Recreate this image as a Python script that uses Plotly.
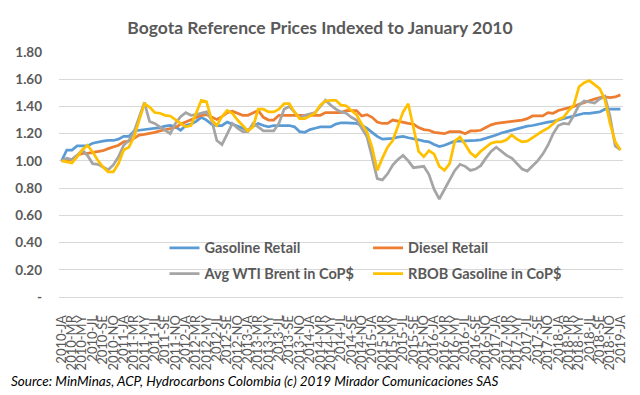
import plotly.graph_objects as go

years = [str(y) for y in range(2010, 2020)]
month_codes = ["JA", "FE", "MR", "AP", "MY", "JN", "JL", "AG", "SE", "OC", "NO", "DE"]
months = [f"{y}-{m}" for y in years for m in month_codes][:109]
tick_labels = months[::2]

gasoline_retail = [
    1.00, 1.08, 1.08, 1.11, 1.11, 1.11, 1.13, 1.14, 1.145, 1.15, 1.15, 1.16,
    1.18, 1.18, 1.22, 1.225, 1.23, 1.23, 1.24, 1.245, 1.255, 1.26, 1.25, 1.225,
    1.26, 1.27, 1.29, 1.32, 1.30, 1.27, 1.26, 1.26, 1.285, 1.27, 1.25, 1.235,
    1.225, 1.255, 1.275, 1.26, 1.25, 1.26, 1.26, 1.26, 1.26, 1.25, 1.215, 1.21,
    1.23, 1.24, 1.25, 1.25, 1.25, 1.27, 1.28, 1.28, 1.28, 1.275, 1.26, 1.24,
    1.21, 1.18, 1.16, 1.16, 1.165, 1.175, 1.18, 1.17, 1.165, 1.155, 1.145, 1.14,
    1.12, 1.105, 1.115, 1.13, 1.145, 1.145, 1.145, 1.15, 1.15, 1.155, 1.165, 1.175,
    1.19, 1.205, 1.215, 1.225, 1.24, 1.25, 1.255, 1.26, 1.27, 1.28, 1.285, 1.29,
    1.30, 1.31, 1.325, 1.335, 1.34, 1.35, 1.35, 1.355, 1.36, 1.38, 1.38, 1.375,
    1.38,
]

diesel_retail = [
    1.00, 1.005, 1.01, 1.04, 1.055, 1.055, 1.06, 1.065, 1.075, 1.09, 1.10, 1.115,
    1.14, 1.145, 1.165, 1.19, 1.195, 1.20, 1.21, 1.22, 1.23, 1.24, 1.245, 1.27,
    1.285, 1.305, 1.315, 1.335, 1.34, 1.325, 1.305, 1.325, 1.355, 1.365, 1.35, 1.335,
    1.335, 1.35, 1.37, 1.32, 1.30, 1.30, 1.335, 1.335, 1.335, 1.335, 1.335, 1.335,
    1.335, 1.335, 1.335, 1.355, 1.355, 1.355, 1.355, 1.37, 1.37, 1.37, 1.33, 1.34,
    1.32, 1.285, 1.275, 1.275, 1.30, 1.29, 1.28, 1.275, 1.27, 1.245, 1.23, 1.225,
    1.21, 1.205, 1.20, 1.215, 1.215, 1.215, 1.20, 1.22, 1.22, 1.225, 1.245, 1.265,
    1.275, 1.28, 1.285, 1.285, 1.29, 1.30, 1.31, 1.33, 1.33, 1.33, 1.355, 1.35,
    1.37, 1.38, 1.385, 1.40, 1.415, 1.43, 1.445, 1.455, 1.465, 1.47, 1.465, 1.47,
    1.485,
]

avg_wti_brent = [
    1.00, 1.02, 1.01, 1.04, 1.08, 1.04, 0.98, 0.975, 0.955, 0.935, 0.97, 1.03,
    1.115, 1.15, 1.215, 1.325, 1.43, 1.29, 1.275, 1.25, 1.225, 1.20, 1.275, 1.325,
    1.355, 1.335, 1.34, 1.35, 1.36, 1.30, 1.15, 1.12, 1.20, 1.275, 1.24, 1.215,
    1.215, 1.275, 1.25, 1.22, 1.22, 1.22, 1.275, 1.38, 1.40, 1.36, 1.315, 1.335,
    1.345, 1.355, 1.40, 1.445, 1.41, 1.38, 1.36, 1.35, 1.32, 1.30, 1.24, 1.18,
    1.03, 0.87, 0.86, 0.905, 0.97, 1.01, 1.04, 1.00, 0.95, 0.955, 0.96, 0.90,
    0.79, 0.72, 0.785, 0.86, 0.93, 0.975, 0.96, 0.93, 0.94, 0.965, 1.02, 1.07,
    1.10, 1.07, 1.04, 1.02, 0.98, 0.94, 0.925, 0.96, 1.00, 1.05, 1.115, 1.20,
    1.26, 1.275, 1.27, 1.335, 1.41, 1.44, 1.435, 1.425, 1.455, 1.475, 1.325, 1.11,
    1.08,
]

rbob_gasoline = [
    1.00, 0.99, 0.985, 1.03, 1.08, 1.115, 1.065, 1.005, 0.955, 0.92, 0.92, 0.98,
    1.08, 1.10, 1.175, 1.30, 1.42, 1.395, 1.355, 1.35, 1.335, 1.33, 1.30, 1.275,
    1.25, 1.26, 1.35, 1.445, 1.435, 1.30, 1.26, 1.325, 1.37, 1.35, 1.30, 1.26,
    1.22, 1.25, 1.38, 1.38, 1.36, 1.36, 1.38, 1.42, 1.42, 1.36, 1.31, 1.31,
    1.33, 1.35, 1.41, 1.44, 1.445, 1.445, 1.41, 1.405, 1.37, 1.34, 1.27, 1.215,
    1.10, 0.93, 1.02, 1.10, 1.15, 1.26, 1.36, 1.42, 1.25, 1.07, 1.03, 1.075,
    1.05, 0.96, 0.93, 0.98, 1.145, 1.175, 1.12, 1.06, 1.03, 1.07, 1.10, 1.13,
    1.14, 1.14, 1.155, 1.19, 1.16, 1.14, 1.145, 1.17, 1.20, 1.22, 1.24, 1.27,
    1.305, 1.32, 1.37, 1.41, 1.545, 1.575, 1.59, 1.56, 1.53, 1.45, 1.275, 1.14,
    1.08,
]

y_ticks = [0, 0.2, 0.4, 0.6, 0.8, 1.0, 1.2, 1.4, 1.6, 1.8]
y_tick_text = ["-", "0.20", "0.40", "0.60", "0.80", "1.00", "1.20", "1.40", "1.60", "1.80"]

series = [
    ("Gasoline Retail", gasoline_retail, "#5b9bd5", "legend"),
    ("Diesel Retail", diesel_retail, "#ed7d31", "legend2"),
    ("Avg WTI Brent in CoP$", avg_wti_brent, "#a5a5a5", "legend"),
    ("RBOB Gasoline in CoP$", rbob_gasoline, "#ffc000", "legend2"),
]

fig = go.Figure()
for name, vals, color, leg in series:
    fig.add_trace(go.Scatter(
        x=months, y=vals, name=name, mode="lines",
        line=dict(color=color, width=2.75),
        legend=leg, legendgroup=name,
    ))

txt = "#595959"
legend_font = dict(family="Lato", size=14.5, color=txt, weight="bold")
fig.update_layout(
    width=640, height=395,
    margin=dict(l=59, r=17, t=52, b=98),
    paper_bgcolor="white", plot_bgcolor="white",
    title=dict(text="Bogota Reference Prices Indexed to January 2010",
               x=0.5, xanchor="center", y=0.93, yanchor="middle",
               font=dict(family="Lato", size=17.5, color=txt, weight="bold")),
    xaxis=dict(
        type="category", range=[-0.5, 108.5],
        tickmode="array", tickvals=tick_labels, ticktext=tick_labels,
        tickangle=-90, showgrid=False, zeroline=False,
        showline=True, linecolor="#d9d9d9", linewidth=1,
        ticks="", ticklabelstandoff=12,
        tickfont=dict(family="Lato", size=13, color=txt),
    ),
    yaxis=dict(
        range=[0, 1.8], tickmode="array", tickvals=y_ticks, ticktext=y_tick_text,
        showgrid=True, gridcolor="#d9d9d9", gridwidth=1, zeroline=False,
        showline=False, ticks="", ticklabelstandoff=16,
        tickfont=dict(family="Lato", size=13.5, color=txt, weight="bold"),
    ),
    legend=dict(x=0.187, y=0.266, xanchor="left", yanchor="top",
                bgcolor="rgba(0,0,0,0)", font=legend_font, tracegroupgap=4,
                itemwidth=30),
    legend2=dict(x=0.548, y=0.266, xanchor="left", yanchor="top",
                 bgcolor="rgba(0,0,0,0)", font=legend_font, tracegroupgap=4,
                 itemwidth=30),
    showlegend=True,
    annotations=[dict(
        text="<i>Source: MinMinas, ACP, Hydrocarbons Colombia (c) 2019 Mirador Comunicaciones SAS</i>",
        xref="paper", yref="paper", x=-0.0886, y=-0.343, xanchor="left", yanchor="middle",
        showarrow=False, font=dict(family="Lato", size=13.5, color="#000000"),
    )],
)

fig.write_html("out.html", config={"displayModeBar": False},
               post_script="document.body.style.margin='0';")
